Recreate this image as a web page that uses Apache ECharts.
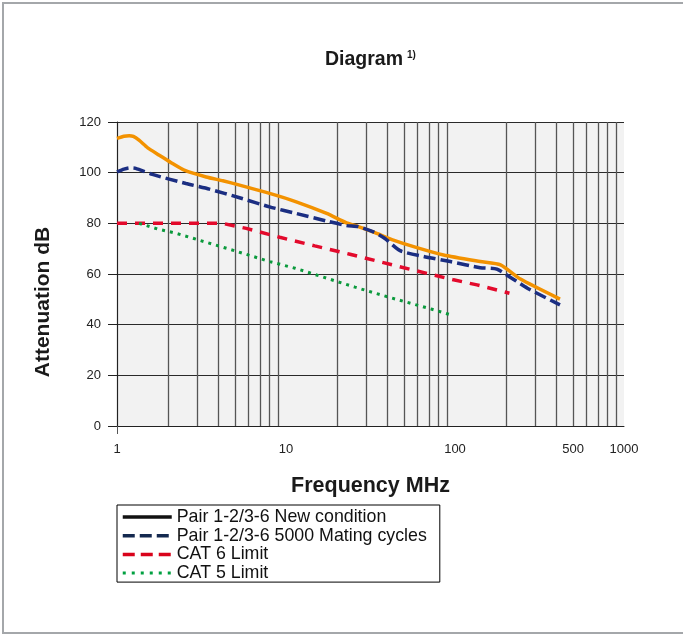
<!DOCTYPE html>
<html>
<head>
<meta charset="utf-8">
<title>Diagram</title>
<script src="https://cdn.jsdelivr.net/npm/echarts@6/dist/echarts.min.js"></script>
<style>
  html, body { margin: 0; padding: 0; background: #fff; }
  #chart { width: 683px; height: 636px; }
</style>
</head>
<body>
<div id="chart"></div>
<script>
// values: frequency in MHz, attenuation in dB
const freqNew = [1.0, 1.1, 1.18, 1.25, 1.35, 1.52, 1.78, 2.13, 2.5, 3.37, 4.23, 5.31, 8.0, 11.5, 17.4, 22.8, 26.8, 33.6, 43.2, 59.5, 85.6, 141, 186, 244, 418];
const attNew = [113.5, 114.4, 114.6, 114.3, 112.8, 109.8, 106.9, 103.6, 101.0, 98.3, 96.8, 95.1, 91.8, 88.5, 83.9, 80.2, 78.7, 76.3, 73.4, 70.4, 67.5, 64.9, 63.6, 58.0, 50.1];

const freqMated = [1.0, 1.1, 1.18, 1.29, 1.62, 2.56, 3.52, 5.31, 8.0, 11.5, 17.4, 22.8, 26.8, 32.9, 38.5, 47.3, 65.1, 93.7, 141, 177, 268, 418];
const attMated = [100.3, 101.4, 101.9, 101.7, 99.3, 95.7, 93.5, 90.1, 86.5, 83.9, 80.9, 79.1, 78.7, 76.6, 74.0, 69.2, 66.9, 64.9, 62.5, 61.9, 54.4, 47.8];

const freqCat6 = [1.0, 4.2, 5.82, 9.18, 14.8, 23.9, 37.7, 59.5, 98, 135, 210];
const attCat6 = [80, 80, 78.0, 74.5, 71.1, 67.8, 64.5, 61.2, 57.7, 55.7, 52.4];

const freqCat5 = [1.35, 1.73, 2.23, 4.96, 8.0, 11.3, 25.6, 41.3, 73, 94];
const attCat5 = [80, 77.8, 76.1, 69.2, 64.9, 62.3, 54.8, 50.7, 46.1, 43.9];

const seriesNames = [
  'Pair 1-2/3-6 New condition',
  'Pair 1-2/3-6 5000 Mating cycles',
  'CAT 6 Limit',
  'CAT 5 Limit'
];
const xLabelValues = [1, 10, 100, 500, 1000];

const zip = (xs, ys) => xs.map((x, i) => [x, ys[i]]);

const chart = echarts.init(document.getElementById('chart'));

const font = '"Liberation Sans", Arial, sans-serif';
const noSymbol = { color: 'transparent', borderWidth: 0 };

const option = {
  backgroundColor: '#fff',
  textStyle: { fontFamily: font },
  title: {
    text: '{a|Diagram}{b|1)}',
    left: 320,
    top: 45,
    textStyle: {
      rich: {
        a: { fontFamily: font, fontSize: 19.5, fontWeight: 'bold', color: '#1a1a1a' },
        b: { fontFamily: font, fontSize: 10, fontWeight: 'bold', color: '#1a1a1a', padding: [0, 0, 10, 4] }
      }
    }
  },
  graphic: [{
    type: 'rect',
    shape: { x: 3, y: 3, width: 720, height: 630 },
    style: { fill: 'none', stroke: '#a4a7aa', lineWidth: 2 },
    silent: true
  }],
  legend: {
    orient: 'vertical',
    left: 117,
    top: 505,
    padding: [3, 13, 0, 4],
    itemGap: 0.7,
    itemWidth: 49,
    itemHeight: 15,
    borderColor: '#000',
    borderWidth: 1,
    backgroundColor: '#fff',
    textStyle: { fontFamily: font, fontSize: 17.8, lineHeight: 15, color: '#111' },
    data: [
      { name: seriesNames[0], itemStyle: noSymbol, lineStyle: { color: '#111', type: 'solid', width: 3.5 } },
      { name: seriesNames[1], itemStyle: noSymbol, lineStyle: { color: '#14294f', type: [12, 5], width: 3.5 } },
      { name: seriesNames[2], itemStyle: noSymbol, lineStyle: { color: '#d9031b', type: [12, 6], width: 3.5 } },
      { name: seriesNames[3], itemStyle: noSymbol, lineStyle: { color: '#00a040', type: [3, 6], width: 3 } }
    ]
  },
  grid: {
    left: 117,
    right: 59,
    top: 122,
    bottom: 210,
    show: true,
    backgroundColor: '#f2f2f2',
    borderWidth: 0
  },
  xAxis: {
    type: 'log',
    logBase: 10,
    min: 1,
    max: 1000,
    name: 'Frequency MHz',
    nameLocation: 'middle',
    nameGap: 49,
    nameTextStyle: { fontFamily: font, fontSize: 21.5, fontWeight: 'bold', color: '#1a1a1a' },
    axisLine: { show: true, lineStyle: { color: '#222', width: 1 } },
    axisTick: { show: true, customValues: [1], length: 8, lineStyle: { color: '#555' } },
    axisLabel: {
      customValues: xLabelValues,
      formatter: v => String(v),
      margin: 17,
      fontSize: 13,
      color: '#222',
      fontFamily: font
    },
    splitLine: { show: true, lineStyle: { color: '#333', width: 1.2 } },
    minorTick: { show: false, splitNumber: 9 },
    minorSplitLine: { show: true, lineStyle: { color: '#555', width: 1.3 } }
  },
  yAxis: {
    type: 'value',
    min: 0,
    max: 120,
    interval: 20,
    name: 'Attenuation dB',
    nameLocation: 'middle',
    nameGap: 63,
    nameRotate: 90,
    nameTextStyle: { fontFamily: font, fontSize: 21, fontWeight: 'bold', color: '#1a1a1a', padding: [0, 56, 0, 0] },
    axisLine: { show: true, lineStyle: { color: '#222', width: 1 } },
    axisTick: { show: true, length: 9, lineStyle: { color: '#222' } },
    axisLabel: { margin: 16, fontSize: 13, color: '#222', fontFamily: font },
    splitLine: { show: true, lineStyle: { color: '#2a2a2a', width: 1.2 } }
  },
  series: [
    {
      name: seriesNames[0],
      type: 'line',
      data: zip(freqNew, attNew),
      showSymbol: false,
      symbol: 'none',
      smooth: 0.2,
      lineStyle: { color: '#f39200', width: 3.5 },
      itemStyle: { color: '#f39200' },
      z: 4
    },
    {
      name: seriesNames[1],
      type: 'line',
      data: zip(freqMated, attMated),
      showSymbol: false,
      symbol: 'none',
      smooth: 0.2,
      lineStyle: { color: '#1b2e82', width: 3.5, type: [12, 5] },
      itemStyle: { color: '#1b2e82' },
      z: 5
    },
    {
      name: seriesNames[2],
      type: 'line',
      data: zip(freqCat6, attCat6),
      showSymbol: false,
      symbol: 'none',
      lineStyle: { color: '#e30a2c', width: 3.5, type: [10, 8] },
      itemStyle: { color: '#e30a2c' },
      z: 3
    },
    {
      name: seriesNames[3],
      type: 'line',
      data: zip(freqCat5, attCat5),
      showSymbol: false,
      symbol: 'none',
      lineStyle: { color: '#0a9a3c', width: 3, type: [3, 5] },
      itemStyle: { color: '#0a9a3c' },
      z: 3
    }
  ]
};

chart.setOption(option);
</script>
</body>
</html>
